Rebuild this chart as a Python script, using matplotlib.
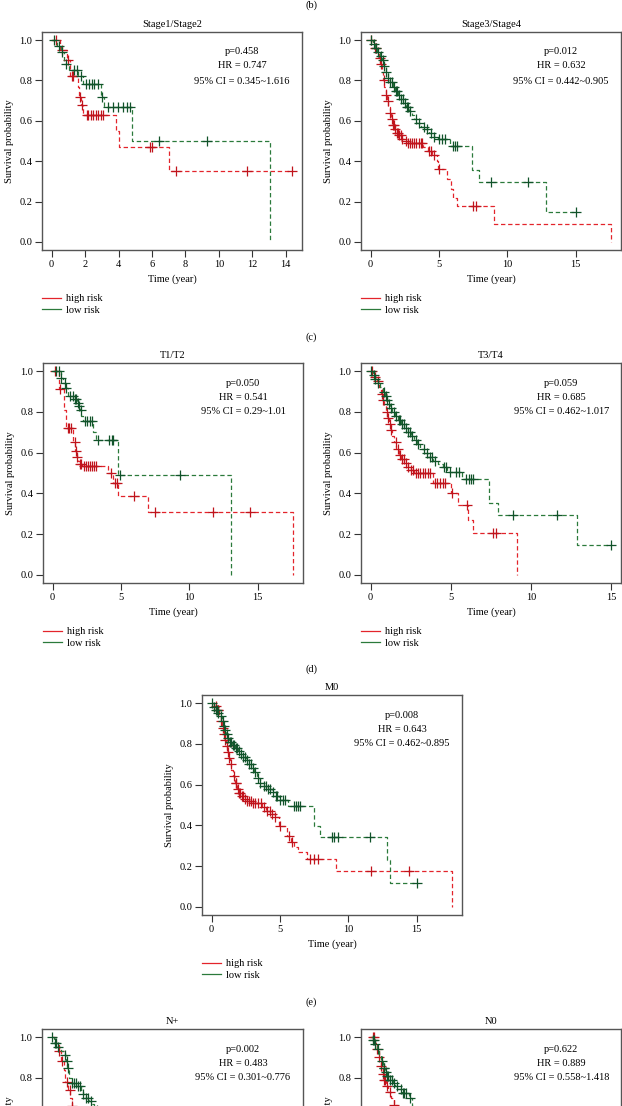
""" Kaplan-Meier curves of high / low risk groups in clinical subgroups.
"""
import numpy as np
import matplotlib
matplotlib.use("Agg")
import matplotlib.pyplot as plt
from matplotlib.lines import Line2D

plt.rcParams['font.family'] = ['Liberation Serif', 'DejaVu Serif']

W, H = 622, 1106

RED = '#e3242b'
RED_MARK = '#c0141c'
GREEN = '#2b7a3b'
GREEN_MARK = '#11532a'

# ---- Stage1/Stage2
s12_high_t = [0.5, 0.9, 1.1, 1.55, 1.65, 1.78, 1.9, 3.85, 4.0, 7.05]
s12_high_s = [0.95, 0.90, 0.82, 0.77, 0.72, 0.68, 0.63, 0.55, 0.47, 0.35]
s12_high_c = [0.28, 0.65, 1.0, 1.2, 1.3, 1.72, 1.8, 2.1, 2.2, 2.35, 2.5, 2.65, 2.8, 2.95, 3.1,
              5.9, 6.0, 7.45, 11.7, 14.4]
s12_low_t = [0.35, 0.55, 0.75, 1.05, 1.6, 1.85, 2.95, 3.15, 4.8, 13.05]
s12_low_s = [0.97, 0.94, 0.88, 0.85, 0.82, 0.78, 0.72, 0.67, 0.50, 0.0]
s12_low_c = [0.15, 0.45, 0.62, 0.85, 1.35, 1.5, 1.75, 2.05, 2.25, 2.4, 2.55, 2.8, 3.0, 3.4, 3.65,
             3.95, 4.25, 4.5, 4.7, 6.45, 9.3]

# ---- Stage3/Stage4
s34_high_t = [0.15, 0.3, 0.45, 0.6, 0.7, 0.8, 0.9, 1.0, 1.1, 1.2, 1.3, 1.4, 1.5, 1.6, 1.75, 1.9,
              2.1, 2.3, 2.5, 2.7, 3.8, 4.2, 4.5, 4.85, 4.95, 5.6, 5.85, 6.05, 6.3, 9.05, 17.6]
s34_high_s = [0.98, 0.96, 0.94, 0.91, 0.88, 0.84, 0.80, 0.77, 0.73, 0.70, 0.67, 0.64, 0.61, 0.58,
              0.56, 0.54, 0.53, 0.51, 0.50, 0.49, 0.47, 0.45, 0.43, 0.40, 0.36, 0.31, 0.26, 0.22,
              0.18, 0.09, 0.0]
s34_high_c = [0.05, 0.35, 0.4, 0.65, 0.75, 0.97, 1.1, 1.25, 1.4, 1.55, 1.65, 1.7, 1.8, 1.9, 2.0,
              2.1, 2.2, 2.3, 2.6, 2.75, 2.9, 3.05, 3.2, 3.35, 3.5, 3.65, 3.75, 4.3, 4.45, 4.6,
              5.0, 7.45, 7.7]
s34_low_t = [0.2, 0.35, 0.5, 0.65, 0.8, 0.95, 1.1, 1.25, 1.4, 1.6, 1.8, 2.0, 2.2, 2.4, 2.6, 2.8,
             3.0, 3.2, 3.4, 3.7, 4.0, 4.3, 4.6, 4.9, 5.8, 7.4, 7.95, 12.8]
s34_low_s = [0.98, 0.96, 0.94, 0.92, 0.90, 0.87, 0.84, 0.81, 0.79, 0.77, 0.75, 0.73, 0.71, 0.69,
             0.67, 0.65, 0.63, 0.61, 0.59, 0.57, 0.56, 0.54, 0.52, 0.51, 0.476, 0.355, 0.295,
             0.147]
s34_low_c = [0.05, 0.25, 0.4, 0.55, 0.75, 0.9, 1.0, 1.15, 1.3, 1.45, 1.55, 1.7, 1.85, 1.95, 2.1,
             2.25, 2.35, 2.5, 2.65, 2.75, 2.9, 3.3, 3.5, 3.9, 4.1, 4.4, 4.6, 5.0, 5.2, 5.45, 6.0,
             6.15, 6.3, 8.8, 11.5, 15.0]

# ---- T1/T2
t12_high_t = [0.5, 0.85, 0.95, 1.5, 1.65, 1.75, 1.85, 2.0, 2.15, 4.05, 4.45, 4.8, 6.95, 17.6]
t12_high_s = [0.91, 0.81, 0.72, 0.65, 0.61, 0.58, 0.56, 0.545, 0.535, 0.50, 0.45, 0.385, 0.31,
              0.0]
t12_high_c = [0.15, 0.55, 1.1, 1.2, 1.35, 1.6, 1.7, 1.8, 2.0, 2.1, 2.3, 2.45, 2.6, 2.75, 2.9, 3.05,
              3.2, 4.3, 4.55, 4.7, 5.95, 7.45, 11.75, 14.4]
t12_low_t = [0.6, 0.75, 0.95, 1.15, 1.6, 1.75, 1.9, 2.0, 2.1, 2.2, 2.95, 3.15, 4.8, 13.05]
t12_low_s = [0.965, 0.94, 0.915, 0.88, 0.865, 0.845, 0.83, 0.81, 0.78, 0.755, 0.70, 0.66, 0.49,
             0.0]
t12_low_c = [0.25, 0.5, 0.6, 0.9, 1.0, 1.25, 1.5, 1.6, 1.7, 1.85, 1.95, 2.05, 2.35, 2.5, 2.7, 2.85,
             3.3, 4.15, 4.35, 4.45, 4.95, 9.3]

# ---- T3/T4
t34_high_t = [0.2, 0.4, 0.55, 0.65, 0.75, 0.85, 0.95, 1.05, 1.15, 1.25, 1.35, 1.45, 1.6, 1.75,
              1.9, 2.1, 2.3, 2.5, 2.7, 3.9, 5.0, 5.45, 6.05, 6.35, 9.1]
t34_high_s = [0.97, 0.95, 0.92, 0.89, 0.86, 0.83, 0.80, 0.77, 0.74, 0.71, 0.68, 0.65, 0.62, 0.59,
              0.57, 0.55, 0.53, 0.515, 0.50, 0.45, 0.40, 0.345, 0.27, 0.205, 0.0]
t34_high_c = [0.1, 0.3, 0.45, 0.7, 0.8, 1.0, 1.1, 1.2, 1.3, 1.55, 1.7, 1.8, 1.95, 2.05, 2.2, 2.35,
              2.5, 2.65, 2.8, 2.95, 3.1, 3.25, 3.4, 3.55, 3.7, 4.0, 4.15, 4.3, 4.5, 4.65, 5.1,
              6.0, 7.6, 7.8]
t34_low_t = [0.15, 0.3, 0.45, 0.6, 0.75, 0.9, 1.0, 1.1, 1.2, 1.35, 1.5, 1.7, 1.9, 2.1, 2.3, 2.5,
             2.7, 2.9, 3.1, 3.35, 3.6, 3.9, 4.2, 4.5, 4.75, 5.7, 7.4, 7.95, 12.85]
t34_low_s = [0.98, 0.96, 0.94, 0.92, 0.90, 0.88, 0.86, 0.84, 0.82, 0.80, 0.78, 0.76, 0.74, 0.72,
             0.70, 0.68, 0.66, 0.64, 0.62, 0.60, 0.58, 0.56, 0.545, 0.53, 0.505, 0.47, 0.355,
             0.295, 0.145]
t34_low_c = [0.02, 0.2, 0.3, 0.45, 0.85, 0.95, 1.05, 1.15, 1.3, 1.45, 1.6, 1.75, 1.85, 1.95, 2.05,
             2.2, 2.35, 2.45, 2.6, 2.8, 2.95, 3.3, 3.5, 3.7, 3.85, 4.0, 4.55, 4.7, 4.95, 5.35,
             5.5, 5.95, 6.1, 6.25, 6.4, 8.85, 11.6, 15.0]

# ---- M0
m0_high_t = [0.2, 0.4, 0.55, 0.65, 0.75, 0.85, 0.95, 1.05, 1.15, 1.25, 1.35, 1.45, 1.55, 1.7,
             1.85, 2.0, 2.2, 2.4, 2.6, 2.9, 3.7, 4.0, 4.3, 4.6, 4.9, 5.5, 5.8, 6.0, 6.35, 6.95,
             9.1, 17.6]
m0_high_s = [0.985, 0.965, 0.94, 0.91, 0.88, 0.85, 0.82, 0.79, 0.76, 0.73, 0.70, 0.67, 0.64,
             0.61, 0.58, 0.56, 0.545, 0.53, 0.52, 0.51, 0.49, 0.47, 0.455, 0.44, 0.395, 0.35,
             0.32, 0.295, 0.27, 0.236, 0.178, 0.0]
m0_high_c = [0.3, 0.45, 0.5, 0.65, 0.8, 0.9, 1.0, 1.1, 1.2, 1.3, 1.4, 1.6, 1.75, 1.8, 1.9, 2.0,
             2.1, 2.2, 2.3, 2.45, 2.6, 2.7, 2.85, 3.0, 3.2, 3.4, 3.6, 3.85, 4.05, 4.25, 4.45,
             4.65, 5.0, 5.65, 5.9, 7.2, 7.5, 7.75, 11.65, 14.4]
m0_low_t = [0.15, 0.3, 0.45, 0.6, 0.75, 0.85, 0.95, 1.05, 1.15, 1.3, 1.5, 1.7, 1.9, 2.1, 2.3, 2.5,
            2.7, 2.9, 3.1, 3.3, 3.5, 3.8, 4.1, 4.4, 4.7, 4.9, 5.6, 7.45, 7.95, 12.85, 13.05]
m0_low_s = [0.98, 0.965, 0.95, 0.935, 0.91, 0.89, 0.87, 0.85, 0.83, 0.81, 0.795, 0.78, 0.765,
            0.75, 0.735, 0.72, 0.70, 0.68, 0.66, 0.635, 0.61, 0.595, 0.58, 0.565, 0.545, 0.525,
            0.494, 0.395, 0.341, 0.228, 0.115]
m0_low_c = [0.0, 0.15, 0.3, 0.4, 0.5, 0.65, 0.8, 0.9, 1.0, 1.1, 1.2, 1.35, 1.45, 1.55, 1.65, 1.75,
            1.85, 2.0, 2.15, 2.3, 2.45, 2.6, 2.75, 2.85, 3.0, 3.15, 3.4, 3.55, 3.85, 4.0, 4.15,
            4.3, 4.5, 4.7, 4.8, 5.0, 5.2, 5.4, 6.0, 6.15, 6.3, 6.45, 8.8, 8.95, 9.25, 11.6, 15.0]

# ---- N+ (only the top of this panel is visible)
np_high_t = [0.3, 0.5, 0.7, 0.9, 1.0, 1.2, 1.35, 1.5, 1.7]
np_high_s = [0.96, 0.93, 0.88, 0.84, 0.78, 0.74, 0.70, 0.66, 0.62]
np_high_c = [0.5, 0.75, 1.1, 1.3, 1.5]
np_low_t = [0.2, 0.4, 0.7, 0.95, 1.05, 1.15, 1.25, 1.5, 1.8, 2.1, 2.3, 2.5, 2.7, 2.9, 3.1, 3.3,
            3.6, 4.0]
np_low_s = [0.97, 0.95, 0.93, 0.91, 0.88, 0.85, 0.80, 0.775, 0.76, 0.74, 0.72, 0.70, 0.685, 0.67,
            0.655, 0.64, 0.62, 0.60]
np_low_c = [0.05, 0.25, 0.35, 0.45, 1.0, 1.1, 1.2, 1.5, 1.65, 1.75, 1.9, 2.05, 2.3, 2.5, 2.65,
            2.85, 3.3]

# ---- N0 (only the top of this panel is visible)
n0_high_t = [0.3, 0.45, 0.6, 0.75, 0.9, 1.0, 1.15, 1.3, 1.5, 1.7, 1.9]
n0_high_s = [0.97, 0.94, 0.90, 0.86, 0.82, 0.79, 0.76, 0.73, 0.70, 0.665, 0.63]
n0_high_c = [0.2, 0.22, 0.5, 0.6, 0.75, 0.9, 1.0, 1.05, 1.2, 1.45, 1.7]
n0_low_t = [0.15, 0.3, 0.45, 0.6, 0.75, 0.9, 1.05, 1.2, 1.4, 1.6, 1.8, 2.0, 2.3, 2.8, 3.0, 3.3]
n0_low_s = [0.985, 0.965, 0.94, 0.91, 0.88, 0.85, 0.83, 0.81, 0.79, 0.775, 0.76, 0.745, 0.725,
            0.70, 0.66, 0.62]
n0_low_c = [0.2, 0.25, 0.35, 0.55, 0.8, 0.95, 1.0, 1.1, 1.2, 1.3, 1.45, 1.55, 1.7, 1.9, 2.2, 2.35,
            2.45, 2.6, 2.9]

stats = {
    'Stage1/Stage2': ('0.458', '0.747', '0.345~1.616'),
    'Stage3/Stage4': ('0.012', '0.632', '0.442~0.905'),
    'T1/T2': ('0.050', '0.541', '0.29~1.01'),
    'T3/T4': ('0.059', '0.685', '0.462~1.017'),
    'M0': ('0.008', '0.643', '0.462~0.895'),
    'N+': ('0.002', '0.483', '0.301~0.776'),
    'N0': ('0.622', '0.889', '0.558~1.418'),
}

FS = 7.5
Y_TICKS = [0, 0.2, 0.4, 0.6, 0.8, 1.0]


def px_axes(fig, left, top, right, bottom):
    """Add axes placed by pixel edges (origin at top-left)."""
    return fig.add_axes([left / W, 1 - bottom / H, (right - left) / W, (bottom - top) / H])


def km_curve(ax, times, surv, cens, color, mcolor):
    """Draw one step curve with censor marks."""
    times = np.asarray(times, float)
    surv = np.asarray(surv, float)
    cens = np.asarray(cens, float)
    x = np.concatenate([[0.0], times])
    y = np.concatenate([[1.0], surv])
    if cens.size and cens.max() > x[-1]:
        x = np.append(x, cens.max())
        y = np.append(y, y[-1])
    ax.step(x, y, where='post', color=color, lw=0.9, linestyle=(0, (3.5, 2.2)))
    idx = np.searchsorted(times, cens, side='right')
    cy = np.concatenate([[1.0], surv])[idx]
    ax.plot(cens, cy, linestyle='none', marker='+', ms=6.5, mew=0.9, color=mcolor)


def km_panel(fig, box, title, high, low, xticks, xmax=None, cut=False):
    """
    One Kaplan-Meier panel with stats, labels and a legend below.

    cut: the panel runs off the bottom of the page, so only its top part is drawn
    (labels that would sit entirely below the page are left out).
    """
    left, top, right, bottom = box
    ax = px_axes(fig, left, top, right, bottom)
    km_curve(ax, *high, RED, RED_MARK)
    km_curve(ax, *low, GREEN, GREEN_MARK)
    if xmax is None:
        xmax = max(max(high[0]), max(high[2]), max(low[0]), max(low[2]))
    ax.set_xlim(-0.04 * xmax, 1.04 * xmax)
    ax.set_ylim(-0.04, 1.04)
    ax.set_xticks(xticks)
    ax.set_yticks(Y_TICKS)
    if cut:
        ax.set_yticklabels([f'{v:.1f}' if v >= 0.8 else '' for v in Y_TICKS])
        ax.set_xticklabels([])
    else:
        ax.set_yticklabels([f'{v:.1f}' for v in Y_TICKS])
        ax.set_xlabel('Time (year)', fontsize=FS, labelpad=4)
    ax.tick_params(direction='out', length=5, width=0.8, color='#333333',
                   labelsize=FS, pad=2)
    for sp in ax.spines.values():
        sp.set_color('#555555')
        sp.set_linewidth(1.0)
    ax.set_title(title, fontsize=FS, pad=3.5)
    ax.set_ylabel('Survival probability', fontsize=FS, labelpad=4)

    p, hr, ci = stats[title]
    h = bottom - top
    for dy, txt in [(20, f'p={p}'), (34, f'HR = {hr}'), (49, f'95% CI = {ci}')]:
        ax.text(0.77, 1 - dy / h, txt, transform=ax.transAxes, ha='center', va='center',
                fontsize=FS)

    if not cut:
        handles = [Line2D([], [], color=RED, lw=0.9), Line2D([], [], color=GREEN, lw=0.9)]
        fig.legend(handles, ['high risk', 'low risk'], loc='upper left',
                   bbox_to_anchor=(left / W, 1 - (bottom + 44) / H), frameon=False,
                   fontsize=FS, handlelength=1.8, handletextpad=0.55, labelspacing=0.2,
                   borderpad=0, borderaxespad=0)
    return ax


fig = plt.figure(figsize=(W / 100, H / 100), dpi=100)

for label, y in [('(b)', 5), ('(c)', 337), ('(d)', 669), ('(e)', 1002)]:
    fig.text(311 / W, 1 - y / H, label, ha='center', va='center', fontsize=FS)

ticks5 = [0, 5, 10, 15]
km_panel(fig, (42, 32, 302, 250), 'Stage1/Stage2',
         (s12_high_t, s12_high_s, s12_high_c), (s12_low_t, s12_low_s, s12_low_c),
         [0, 2, 4, 6, 8, 10, 12, 14])
km_panel(fig, (361, 32, 621, 250), 'Stage3/Stage4',
         (s34_high_t, s34_high_s, s34_high_c), (s34_low_t, s34_low_s, s34_low_c), ticks5)
km_panel(fig, (43, 363, 303, 583), 'T1/T2',
         (t12_high_t, t12_high_s, t12_high_c), (t12_low_t, t12_low_s, t12_low_c), ticks5)
km_panel(fig, (361, 363, 621, 583), 'T3/T4',
         (t34_high_t, t34_high_s, t34_high_c), (t34_low_t, t34_low_s, t34_low_c), ticks5)
km_panel(fig, (202, 695, 462, 915), 'M0',
         (m0_high_t, m0_high_s, m0_high_c), (m0_low_t, m0_low_s, m0_low_c), ticks5)

# the bottom row runs off the page; use the same x range as the other cohorts
km_panel(fig, (42, 1029, 303, 1248), 'N+',
         (np_high_t, np_high_s, np_high_c), (np_low_t, np_low_s, np_low_c), ticks5,
         xmax=17.6, cut=True)
km_panel(fig, (361, 1029, 621, 1248), 'N0',
         (n0_high_t, n0_high_s, n0_high_c), (n0_low_t, n0_low_s, n0_low_c), ticks5,
         xmax=17.6, cut=True)

fig.savefig('out.png', dpi=100)
